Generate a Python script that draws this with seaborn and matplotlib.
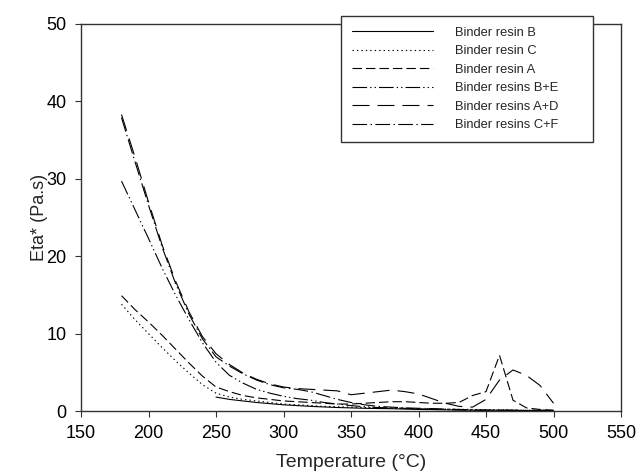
import numpy as np
import pandas as pd
import matplotlib
matplotlib.use("Agg")
import matplotlib.pyplot as plt
import seaborn as sns

# ---- data ----
temps_full = [180, 190, 200, 210, 220, 230, 240, 250, 260, 270, 280, 290, 300,
              310, 320, 330, 340, 350, 360, 370, 380, 390, 400, 410, 420, 430,
              440, 450, 460, 470, 480, 490, 500]
temps_b = [250, 260, 270, 280, 290, 300, 310, 320, 330, 340, 350, 360, 370, 380,
           390, 400, 410, 420, 430, 440, 450, 460, 470, 480, 490, 500]

resin_b = [1.8, 1.5, 1.3, 1.1, 0.95, 0.8, 0.7, 0.6, 0.52, 0.45, 0.4, 0.35, 0.32,
           0.3, 0.25, 0.2, 0.18, 0.15, 0.12, 0.1, 0.1, 0.1, 0.08, 0.05, 0.05, 0.05]
resin_c = [13.8, 11.8, 10.0, 8.2, 6.5, 4.9, 3.4, 2.3, 1.8, 1.5, 1.3, 1.1, 0.9,
           0.8, 0.7, 0.6, 0.55, 0.5, 0.45, 0.4, 0.35, 0.32, 0.3, 0.27, 0.25, 0.22,
           0.2, 0.17, 0.15, 0.12, 0.1, 0.1, 0.1]
resin_a = [14.9, 13.1, 11.5, 9.8, 8.0, 6.2, 4.5, 3.1, 2.5, 2.0, 1.7, 1.5, 1.3,
           1.2, 1.1, 1.0, 0.9, 0.9, 1.0, 1.1, 1.2, 1.2, 1.1, 1.0, 1.0, 1.1,
           2.0, 2.5, 7.2, 1.4, 0.4, 0.2, 0.1]
resins_be = [29.7, 26.0, 22.3, 18.5, 15.0, 11.8, 8.8, 6.3, 4.6, 3.6, 2.8, 2.3, 1.9,
             1.6, 1.4, 1.1, 0.9, 0.7, 0.55, 0.45, 0.4, 0.35, 0.3, 0.25, 0.2, 0.15,
             0.1, 0.1, 0.1, 0.1, 0.1, 0.1, 0.1]
resins_ad = [38.3, 32.8, 27.0, 21.5, 16.8, 12.8, 9.6, 7.4, 6.0, 4.9, 4.1, 3.5, 3.1,
             2.9, 2.8, 2.7, 2.6, 2.1, 2.3, 2.5, 2.7, 2.5, 2.2, 1.6, 1.0, 0.6,
             0.5, 1.5, 4.0, 5.3, 4.6, 3.3, 1.0]
resins_cf = [37.9, 32.2, 26.6, 21.2, 16.5, 12.5, 9.3, 7.0, 5.8, 4.8, 4.0, 3.4, 3.0,
             2.8, 2.5, 2.0, 1.5, 1.1, 0.8, 0.6, 0.5, 0.4, 0.35, 0.3, 0.25, 0.2,
             0.15, 0.1, 0.1, 0.08, 0.05, 0.05, 0.05]

labels = ["Binder resin B", "Binder resin C", "Binder resin A",
          "Binder resins B+E", "Binder resins A+D", "Binder resins C+F"]
x_ticks = [150, 200, 250, 300, 350, 400, 450, 500, 550]
y_ticks = [0, 10, 20, 30, 40, 50]

frames = [
    pd.DataFrame({"T": temps_b, "eta": resin_b, "series": labels[0]}),
    pd.DataFrame({"T": temps_full, "eta": resin_c, "series": labels[1]}),
    pd.DataFrame({"T": temps_full, "eta": resin_a, "series": labels[2]}),
    pd.DataFrame({"T": temps_full, "eta": resins_be, "series": labels[3]}),
    pd.DataFrame({"T": temps_full, "eta": resins_ad, "series": labels[4]}),
    pd.DataFrame({"T": temps_full, "eta": resins_cf, "series": labels[5]}),
]
df = pd.concat(frames, ignore_index=True)

# ---- style ----
sns.set_theme(style="ticks")
plt.rcParams["font.family"] = ["Liberation Sans", "DejaVu Sans"]
plt.rcParams["lines.scale_dashes"] = False

dash_map = {
    labels[0]: "",
    labels[1]: (1.0, 2.2),
    labels[2]: (6.8, 2.9),
    labels[3]: (10.5, 2.2, 1.0, 2.2, 1.0, 2.2),
    labels[4]: (12.2, 5.8),
    labels[5]: (10.5, 2.5, 1.0, 2.5),
}

fig = plt.figure(figsize=(6.39, 4.75), dpi=100)
ax = fig.add_axes([81 / 639, 1 - 411 / 475, 540 / 639, 387 / 475])

sns.lineplot(data=df, x="T", y="eta", style="series", style_order=labels,
             dashes=dash_map, color="black", linewidth=0.8, sort=False,
             estimator=None, ax=ax)

ax.set_xlim(150, 550)
ax.set_ylim(0, 50)
ax.set_xticks(x_ticks)
ax.set_yticks(y_ticks)
ax.tick_params(axis="both", direction="out", length=4.3, width=0.8,
               color="#333333", labelsize=13, labelcolor="black")
ax.tick_params(axis="x", pad=5.5)
ax.tick_params(axis="y", pad=6)
for s in ax.spines.values():
    s.set_linewidth(1.0)
    s.set_color("#333333")
    s.set_visible(True)

ax.set_xlabel("Temperature (°C)", fontsize=14, labelpad=9)
ax.set_ylabel("Eta* (Pa.s)", fontsize=13, labelpad=-1)

handles, lbls = ax.get_legend_handles_labels()
leg = ax.legend(handles, lbls, loc="upper left",
                bbox_to_anchor=(0.481, 0.669, 0.467, 0.352),
                mode="expand", fontsize=9.3, frameon=True, fancybox=False,
                edgecolor="#333333", facecolor="white", framealpha=1,
                handlelength=6.3, handletextpad=1.7, labelspacing=0.5,
                borderpad=0.85, borderaxespad=0)
leg.get_frame().set_linewidth(1.0)

fig.savefig("out.png", dpi=100)
